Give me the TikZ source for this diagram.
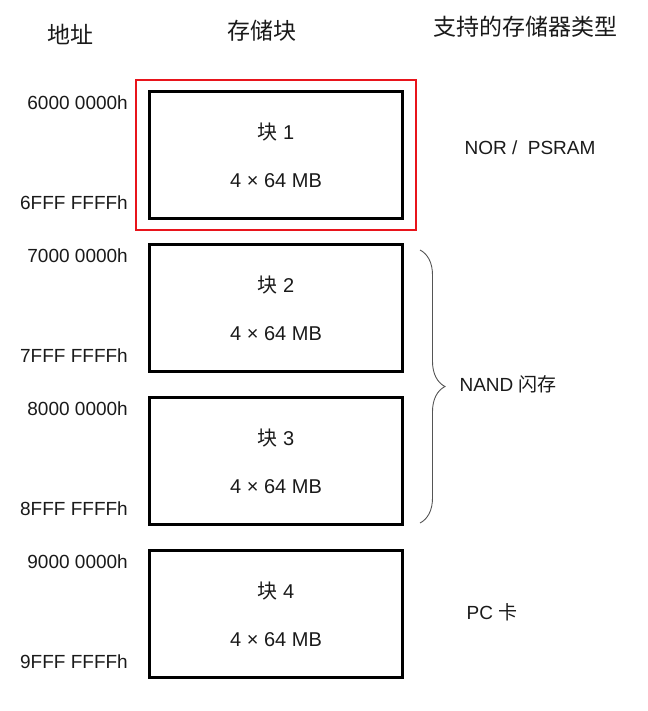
\documentclass[tikz,border=0pt]{standalone}
\usepackage{fontspec}
\setmainfont{Liberation Sans}
\newfontfamily\cjk{Noto Sans CJK SC}
\usepackage{tikz}
\usetikzlibrary{positioning,fit,decorations.pathreplacing}
\definecolor{ink}{HTML}{1A1A1A}
\definecolor{hired}{HTML}{E8141B}
\definecolor{bracegray}{HTML}{555555}

\begin{document}
\begin{tikzpicture}[
  x=1pt,y=-1pt,
  node distance=23pt,
  blk/.style={draw=black,line width=3pt,minimum width=253pt,minimum height=127pt,
              align=center,inner sep=0pt,font=\fontsize{20}{26}\selectfont,text=ink},
  addr/.style={anchor=east,inner sep=0pt,font=\fontsize{19}{22}\selectfont,text=ink},
  head/.style={font=\fontsize{23}{26}\selectfont\cjk,text=ink},
  kind/.style={font=\fontsize{19}{22}\selectfont,text=ink},
  hilite/.style={draw=hired,line width=2pt,inner xsep=12pt,inner ysep=10pt},
  brc/.style={draw=bracegray,line width=0.9pt,decorate,decoration={brace,amplitude=25pt}}
]
\useasboundingbox (0,0) rectangle (647,711);
% column heads
\node[head] (hA) at (70,34) {地址};
\node[head] (hB) at (262,31) {存储块};
\node[head] (hC) at (525,27) {支持的存储器类型};
% memory blocks
\node[blk] (b1) at (276,155) {{\cjk 块} 1\\[22pt]4 × 64 MB};
\node[blk,below=of b1] (b2) {{\cjk 块} 2\\[22pt]4 × 64 MB};
\node[blk,below=of b2] (b3) {{\cjk 块} 3\\[22pt]4 × 64 MB};
\node[blk,below=of b3] (b4) {{\cjk 块} 4\\[22pt]4 × 64 MB};
\node[hilite,fit=(b1)] (sel) {};
% start / end addresses
\node[addr] (a1s) at ([xshift=-20pt,yshift=-13pt]b1.north west) {6000 0000h};
\node[addr] (a1e) at ([xshift=-20pt,yshift=17pt]b1.south west) {6FFF FFFFh};
\node[addr] (a2s) at ([xshift=-20pt,yshift=-13pt]b2.north west) {7000 0000h};
\node[addr] (a2e) at ([xshift=-20pt,yshift=17pt]b2.south west) {7FFF FFFFh};
\node[addr] (a3s) at ([xshift=-20pt,yshift=-13pt]b3.north west) {8000 0000h};
\node[addr] (a3e) at ([xshift=-20pt,yshift=17pt]b3.south west) {8FFF FFFFh};
\node[addr] (a4s) at ([xshift=-20pt,yshift=-13pt]b4.north west) {9000 0000h};
\node[addr] (a4e) at ([xshift=-20pt,yshift=17pt]b4.south west) {9FFF FFFFh};
% memory types
\node[kind] (nor) at (530,148) {NOR /\ \ PSRAM};
\coordinate (nT) at (420,250);
\coordinate (nB) at (420,523);
\draw[brc] (nT) -- (nB);
\node[kind,anchor=west] (nand) at (456,384) {NAND {\cjk 闪存}};
\node[kind] (pc) at (492,612) {PC {\cjk 卡}};
\end{tikzpicture}
\end{document}
